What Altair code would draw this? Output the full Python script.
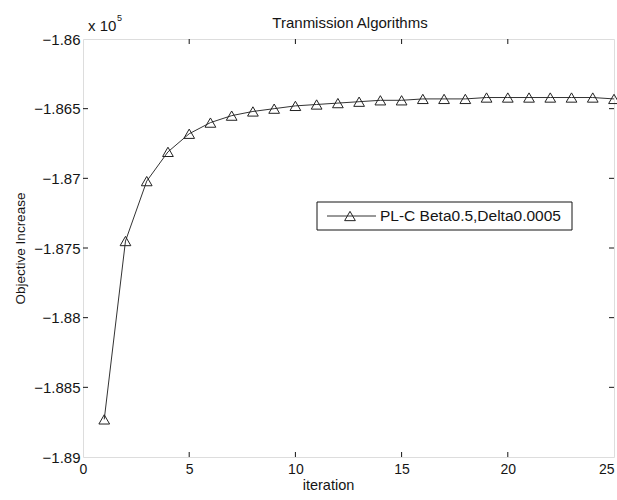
import altair as alt
import pandas as pd

# Objective value per iteration (axis units of 1e5)
iterations = list(range(1, 26))
objective_e5 = [
    -1.8873, -1.8745, -1.8702, -1.8681, -1.8668,
    -1.8660, -1.8655, -1.8652, -1.8650, -1.8648,
    -1.8647, -1.8646, -1.8645, -1.8644, -1.8644,
    -1.8643, -1.8643, -1.8643, -1.8642, -1.8642,
    -1.8642, -1.8642, -1.8642, -1.8642, -1.8643,
]
series_name = "PL-C Beta0.5,Delta0.0005"
chart_title = "Tranmission Algorithms"

x_ticks = [0, 5, 10, 15, 20, 25]
y_ticks = [-1.89, -1.885, -1.88, -1.875, -1.87, -1.865, -1.86]

W, H = 531, 418
FONT = "Liberation Sans"
INK = "#151515"

df = pd.DataFrame({"iteration": iterations, "objective": objective_e5})
xt = pd.DataFrame({"t": x_ticks[1:-1]})
yt = pd.DataFrame({"t": y_ticks[1:-1]})
one = pd.DataFrame({"label": [series_name], "title": [chart_title]})

x_scale = alt.Scale(domain=[0, 25], nice=False, zero=False)
y_scale = alt.Scale(domain=[-1.89, -1.86], nice=False, zero=False)

x_enc = alt.X(
    "iteration:Q", scale=x_scale,
    axis=alt.Axis(
        values=x_ticks, title="iteration", domain=False, ticks=False, grid=False,
        labelFlush=False, labelPadding=5, labelFontSize=14, labelFont=FONT,
        labelAlign=alt.condition("datum.value == 25", alt.value("right"), alt.value("center")),
        labelColor=INK, titleFont=FONT, titleFontSize=14.5, titleFontWeight="normal",
        titleColor=INK, titlePadding=2, titleX=245, titleAnchor="middle", titleAlign="center",
    ),
)
y_enc = alt.Y(
    "objective:Q", scale=y_scale,
    axis=alt.Axis(
        values=y_ticks, format=".3~f", title="Objective Increase", domain=False,
        ticks=False, grid=False, labelPadding=3, labelFontSize=15, labelFont=FONT,
        labelColor=INK, titleFont=FONT, titleFontSize=13.5, titleFontWeight="normal",
        titleColor=INK, titlePadding=6,
    ),
)

line = alt.Chart(df).mark_line(color="#333333", strokeWidth=1).encode(x=x_enc, y=y_enc)
points = alt.Chart(df).mark_point(
    shape="triangle-up", size=115, filled=False, color="#222222", strokeWidth=1, opacity=1
).encode(x=alt.X("iteration:Q", scale=x_scale), y=alt.Y("objective:Q", scale=y_scale))

# Inward-pointing ticks on all four sides of the box
tick_len = 5
xt_bottom = alt.Chart(xt).mark_rule(color=INK, strokeWidth=1).encode(
    x=alt.X("t:Q", scale=x_scale), y=alt.value(H), y2=alt.value(H - tick_len))
xt_top = alt.Chart(xt).mark_rule(color=INK, strokeWidth=1).encode(
    x=alt.X("t:Q", scale=x_scale), y=alt.value(0), y2=alt.value(tick_len))
yt_left = alt.Chart(yt).mark_rule(color=INK, strokeWidth=1).encode(
    y=alt.Y("t:Q", scale=y_scale), x=alt.value(0), x2=alt.value(tick_len))
yt_right = alt.Chart(yt).mark_rule(color=INK, strokeWidth=1).encode(
    y=alt.Y("t:Q", scale=y_scale), x=alt.value(W), x2=alt.value(W - tick_len))

# Title and exponent note above the box
title_txt = alt.Chart(one).mark_text(
    font=FONT, fontSize=15, align="center", baseline="middle", color=INK
).encode(x=alt.value(267), y=alt.value(-16), text="title:N")
exp_base = alt.Chart(one).mark_text(
    text="x 10", font=FONT, fontSize=15, align="left", baseline="middle", color=INK
).encode(x=alt.value(5), y=alt.value(-13))
exp_sup = alt.Chart(one).mark_text(
    text="5", font=FONT, fontSize=9, align="left", baseline="middle", color=INK
).encode(x=alt.value(34), y=alt.value(-21))

# Legend box
lg_box = alt.Chart(one).mark_rect(fill="white", stroke=INK, strokeWidth=1).encode(
    x=alt.value(234), x2=alt.value(489), y=alt.value(163), y2=alt.value(191))
lg_line = alt.Chart(one).mark_rule(color="#333333", strokeWidth=1).encode(
    x=alt.value(244), x2=alt.value(293), y=alt.value(177))
lg_mark = alt.Chart(one).mark_point(
    shape="triangle-up", size=115, filled=False, color="#222222", strokeWidth=1, opacity=1
).encode(x=alt.value(267), y=alt.value(177))
lg_text = alt.Chart(one).mark_text(
    font=FONT, fontSize=15.5, align="left", baseline="middle", color=INK
).encode(x=alt.value(297), y=alt.value(177), text="label:N")

chart = alt.layer(
    line, points, xt_bottom, xt_top, yt_left, yt_right,
    title_txt, exp_base, exp_sup, lg_box, lg_line, lg_mark, lg_text,
).properties(
    width=W, height=H,
    autosize=alt.AutoSizeParams(type="none"),
    padding={"left": 83, "top": 39, "right": 3, "bottom": 43},
).configure_view(stroke=INK, strokeWidth=1.2).configure(background="white")

chart.save("out.html", embed_options={"renderer": "svg", "actions": False})
